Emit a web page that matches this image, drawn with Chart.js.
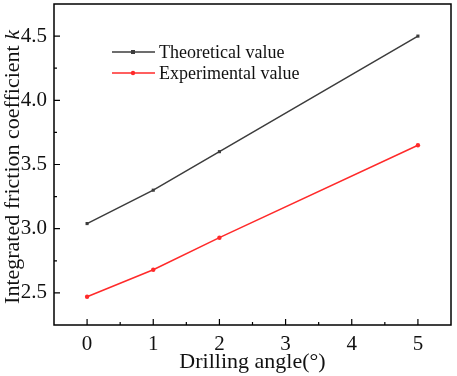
<!DOCTYPE html>
<html lang="en">
<head>
<meta charset="UTF-8">
<script src="https://cdn.jsdelivr.net/npm/chart.js"></script>
<title>friction coefficient</title>
<style>
  html, body { margin: 0; padding: 0; background: #fff; }
  #wrap { width: 457px; height: 376px; }
</style>
</head>
<body>
<div id="wrap"><canvas id="myChart" width="457" height="376"></canvas></div>
<script>
// drilling angle (deg)
const angulos = [0, 1, 2, 5];
const teorico = [3.04, 3.30, 3.60, 4.50];
const experimental = [2.47, 2.68, 2.93, 3.65];
const nomes = ['Theoretical value', 'Experimental value'];
const tituloX = 'Drilling angle(°)';
const tituloY = ['Integrated friction coefficient ', 'k'];

const serif = "'Liberation Serif', 'Times New Roman', serif";

// ticks inward, frame, legend and y title (with italic k)
const desenhoExtra = {
    id: 'desenhoExtra',
    afterDraw(chart) {
        const ctx = chart.ctx;
        const a = chart.chartArea;
        const sx = chart.scales.x, sy = chart.scales.y;
        ctx.save();
        ctx.strokeStyle = '#000';
        ctx.lineWidth = 1.5;
        ctx.strokeRect(a.left, a.top, a.right - a.left, a.bottom - a.top);

        ctx.lineWidth = 1.2;
        ctx.beginPath();
        for (let v = 0; v <= 5.001; v += 0.5) {
            const px = sx.getPixelForValue(v);
            const len = Number.isInteger(v) ? 6 : 3;
            ctx.moveTo(px, a.bottom);
            ctx.lineTo(px, a.bottom - len);
        }
        for (let v = 2.5; v <= 4.5001; v += 0.25) {
            const py = sy.getPixelForValue(v);
            const len = Math.abs(v * 2 - Math.round(v * 2)) < 0.01 ? 6 : 3;
            ctx.moveTo(a.left, py);
            ctx.lineTo(a.left + len, py);
        }
        ctx.stroke();

        // legenda
        ctx.font = '18px ' + serif;
        ctx.textBaseline = 'middle';
        ctx.textAlign = 'left';
        chart.data.datasets.forEach(function (ds, i) {
            const y = 52 + i * 21;
            ctx.strokeStyle = ds.borderColor;
            ctx.lineWidth = 1.5;
            ctx.beginPath();
            ctx.moveTo(112, y);
            ctx.lineTo(155, y);
            ctx.stroke();
            ctx.fillStyle = ds.borderColor;
            if (i === 0) {
                ctx.fillRect(131, y - 2, 4, 4);
            } else {
                ctx.beginPath();
                ctx.arc(133, y, 2.2, 0, Math.PI * 2);
                ctx.fill();
            }
            ctx.fillStyle = '#111';
            ctx.fillText(ds.label, 159, y + 1);
        });

        // titulo do eixo y
        ctx.translate(13, 167);
        ctx.rotate(-Math.PI / 2);
        ctx.textBaseline = 'middle';
        ctx.font = '22px ' + serif;
        const w1 = ctx.measureText(tituloY[0]).width;
        ctx.font = 'italic 22px ' + serif;
        const w2 = ctx.measureText(tituloY[1]).width;
        let x0 = -(w1 + w2) / 2;
        ctx.fillStyle = '#111';
        ctx.textAlign = 'left';
        ctx.font = '22px ' + serif;
        ctx.fillText(tituloY[0], x0, 0);
        ctx.font = 'italic 22px ' + serif;
        ctx.fillText(tituloY[1], x0 + w1, 0);
        ctx.restore();
    }
};

function pontos(ys) {
    return angulos.map(function (x, i) { return { x: x, y: ys[i] }; });
}

const dados = {
    datasets: [
        {
            label: nomes[0],
            data: pontos(teorico),
            borderColor: '#3c3c3c',
            backgroundColor: '#3c3c3c',
            borderWidth: 1.5,
            pointStyle: 'rect',
            pointRadius: 2.2,
            pointBorderWidth: 0
        },
        {
            label: nomes[1],
            data: pontos(experimental),
            borderColor: '#ff2a2a',
            backgroundColor: '#ff2a2a',
            borderWidth: 1.5,
            pointStyle: 'circle',
            pointRadius: 2.2,
            pointBorderWidth: 0
        }
    ]
};

const config = {
    type: 'line',
    data: dados,
    options: {
        responsive: false,
        animation: false,
        layout: { padding: { left: 0, top: 3, right: 6, bottom: 0 } },
        plugins: { legend: { display: false }, tooltip: { enabled: false } },
        scales: {
            x: {
                type: 'linear',
                min: -0.5,
                max: 5.5,
                grid: { display: false, drawTicks: false },
                border: { display: false },
                ticks: {
                    stepSize: 0.5,
                    autoSkip: false,
                    maxRotation: 0,
                    padding: 7,
                    color: '#111',
                    font: { family: serif, size: 21 },
                    callback: function (v) { return Number.isInteger(v) ? String(v) : ''; }
                },
                title: {
                    display: true,
                    text: tituloX,
                    color: '#111',
                    font: { family: serif, size: 22 },
                    padding: { top: 0, bottom: 1 }
                },
                afterFit: function (s) { s.height = 51; s.paddingLeft = 0; s.paddingRight = 0; }
            },
            y: {
                min: 2.25,
                max: 4.75,
                grid: { display: false, drawTicks: false },
                border: { display: false },
                ticks: {
                    stepSize: 0.25,
                    autoSkip: false,
                    padding: 7,
                    color: '#111',
                    font: { family: serif, size: 21 },
                    callback: function (v) {
                        return Math.abs(v * 2 - Math.round(v * 2)) < 0.001 ? v.toFixed(1) : '';
                    }
                },
                afterFit: function (s) { s.width = 54; s.paddingTop = 0; s.paddingBottom = 0; }
            }
        }
    },
    plugins: [desenhoExtra]
};

let myChart = new Chart(document.getElementById('myChart'), config);
</script>
</body>
</html>
